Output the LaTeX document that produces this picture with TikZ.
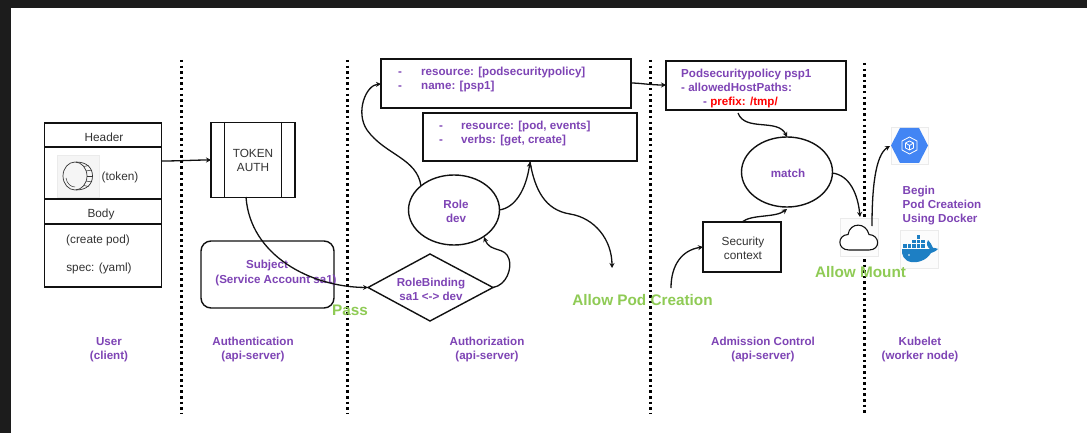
\documentclass[tikz,border=0pt]{standalone}
\usepackage{fontspec}
\setmainfont{Liberation Sans}
\usetikzlibrary{arrows.meta,shapes.geometric}
\definecolor{pur}{HTML}{7E44B5}
\definecolor{grn}{HTML}{8FCB55}
\definecolor{ink}{HTML}{111111}
\definecolor{txt}{HTML}{333333}
\definecolor{gkeblue}{HTML}{4285F4}
\definecolor{dockblue}{HTML}{1D7FC4}
\newcommand{\fs}[1]{\fontsize{#1}{#1}\selectfont}
\tikzset{
 x=1pt,y=-1pt,
 divider/.style={draw=black,line width=3pt,dash pattern=on 2.5pt off 3.1pt},
 boxed/.style={draw=ink,line width=1.4pt,rectangle,inner sep=0pt},
 conn/.style={draw=ink,line width=1.3pt,-{Stealth[length=5pt,width=5pt]}},
 ptxt/.style={text=pur,font=\fs{11.6}\bfseries,align=center,inner sep=0pt},
 ltxt/.style={ptxt,align=left,anchor=base west},
 gtxt/.style={text=grn,font=\fs{15.3}\bfseries,inner sep=0pt},
 btxt/.style={text=txt,font=\fs{11.8},align=center,inner sep=0pt},
 icon/.style={fill=black!1,draw=black!8,line width=.4pt,minimum size=38pt,inner sep=0pt,rectangle},
 sep/.style={draw=ink,line width=1.4pt},
}
\begin{document}
\begin{tikzpicture}
\useasboundingbox (0,0) rectangle (1087,433);
\fill[black!89] (0,0) rectangle (1087,433);
\fill[white] (11,8) rectangle (1087,433);

% dividers
\coordinate (d1a) at (181,60); \coordinate (d1b) at (181,414);
\coordinate (d2a) at (347,60); \coordinate (d2b) at (347,414);
\coordinate (d3a) at (650,60); \coordinate (d3b) at (650,414);
\coordinate (d4a) at (864,63); \coordinate (d4b) at (864,414);
\draw[divider] (d1a)--(d1b);
\draw[divider] (d2a)--(d2b);
\draw[divider] (d3a)--(d3b);
\draw[divider] (d4a)--(d4b);

% user request box
\node[boxed,minimum width=117pt,minimum height=164pt] (req) at (103,205) {};
\draw[sep] (45,147)--(161,147) (45,199)--(161,199) (45,224)--(161,224);
\node[btxt] (hdr) at (104,137) {Header};
\node[btxt] (bdy) at (101,214) {Body};
\node[btxt] (tok) at (120,177) {(token)};
\node[btxt] (cp) at (98,240) {(create pod)};
\node[btxt] (sp) at (99,268) {spec: (yaml)};
\node[fill=black!4,draw=black!8,line width=.4pt,minimum size=42pt,inner sep=0pt,rectangle] (coin) at (78,176) {};
\draw[txt,line width=.7pt] (75,176) ellipse (12 and 14);
\draw[txt,line width=.7pt] (76,162) .. controls (87,162) and (92.5,168) .. (92.5,176) .. controls (92.5,184) and (87,190) .. (76,190);
\foreach \xa/\ya/\xb/\yb in {84/166.5/88.5/165.5,86/171/92/170,87/176/92.5/176,86/181/92/182,84/185.5/88.5/186.5}
  \draw[txt,line width=.5pt] (\xa,\ya)--(\xb,\yb);
\draw[txt,line width=.5pt] (66,178) .. controls (67,184) and (71,187) .. (75,187);

% token auth
\node[boxed,minimum width=84pt,minimum height=75pt] (auth) at (253,160) {};
\draw[sep] (224.5,122)--(224.5,197) (281.5,122)--(281.5,197);
\node[btxt] (authl) at (253,160.5) {TOKEN\\[2.5pt]AUTH};

% subject
\node[draw=ink,line width=1.4pt,rectangle,rounded corners=10pt,minimum width=133pt,minimum height=67pt] (subj) at (267.5,274.5) {};
\node[ptxt] (subjl) at (267,265.5) {Subject};
\node[ptxt] (subjm) at (276,280) {(Service Account sa1)};

% rolebinding
\coordinate (dL) at (368,287.5); \coordinate (dR) at (493,287.5);
\draw[line width=1.4pt,draw=ink] (368,287.5)--(430,254)--(493,287.5)--(430,321)--cycle;
\node[ptxt] (rb) at (431,289) {RoleBinding\\[2.5pt]sa1 <-> dev};

% role
\node[draw=ink,line width=1.4pt,ellipse,minimum width=91pt,minimum height=70pt,inner sep=0pt] (role) at (454,210) {};
\node[ptxt] (rolel) at (456,211.5) {Role\\[2.5pt]dev};

% rule boxes
\node[boxed,minimum width=250pt,minimum height=49pt] (b1) at (506,83.5) {};
\node[ltxt] (b1a) at (398,76) {-};
\node[ltxt] (b1b) at (398,90) {-};
\node[ltxt] (b1c) at (421,76) {resource: [podsecuritypolicy]};
\node[ltxt] (b1d) at (421,90) {name: [psp1]};
\node[boxed,minimum width=214pt,minimum height=48pt] (b2) at (530,137) {};
\node[ltxt] (b2a) at (439,130) {-};
\node[ltxt] (b2b) at (439,144) {-};
\node[ltxt] (b2c) at (461,130) {resource: [pod, events]};
\node[ltxt] (b2d) at (461,144) {verbs: [get, create]};

% psp
\node[boxed,minimum width=180pt,minimum height=49pt] (psp) at (756,85.5) {};
\node[ltxt] (p1) at (681,78) {Podsecuritypolicy psp1};
\node[ltxt] (p2) at (681,92) {- allowedHostPaths:};
\node[ltxt] (p3) at (703,106) {- \textcolor{red}{prefix: /tmp/}};

% match
\node[draw=ink,line width=1.4pt,ellipse,minimum width=91pt,minimum height=70pt,inner sep=0pt] (match) at (787,172) {};
\node[ptxt] (matchl) at (788,173) {match};

% security context
\node[boxed,minimum width=78pt,minimum height=50pt] (sec) at (742,247) {};
\node[btxt] (secl) at (743,248) {Security\\[2.5pt]context};

% cloud icon
\node[icon] (cloud) at (859,237) {};
\draw[ink,line width=1.1pt,fill=white] (849,250) .. controls (837,250) and (837,235) .. (848,234.5) .. controls (850,222) and (866,222) .. (869,234.5) .. controls (880,235) and (881,250) .. (869,250) -- cycle;

% gke icon
\node[icon,minimum size=37pt] (gke) at (909.5,145.5) {};
\fill[gkeblue] (891,145.5)--(900,128)--(919,128)--(928,145.5)--(919,163)--(900,163)--cycle;
\draw[white,line width=.8pt,line join=round] (909.5,137)--(917,141)--(917,150)--(909.5,154)--(902,150)--(902,141)--cycle;
\draw[white,line width=.8pt,line join=round] (909.5,141)--(913.5,143)--(913.5,148)--(909.5,150)--(905.5,148)--(905.5,143)--cycle (905.5,143)--(909.5,145.5)--(913.5,143) (909.5,145.5)--(909.5,150);

% docker icon
\node[icon] (dock) at (919,249) {};
\fill[dockblue] (902,249) -- (930,249) .. controls (932,247) and (936,248) .. (938,249) .. controls (935,252) and (933,252) .. (931,253) .. controls (926,261) and (917,263) .. (911,262) .. controls (904,261) and (901,254) .. (902,249) -- cycle;
\foreach \xx/\yy in {903/244,907.5/244,912/244,916.5/244,921/244,912/239.5,916.5/239.5,921/239.5,916.5/235}
  \fill[dockblue] (\xx,\yy) rectangle ++(3.8,3.8);
\fill[dockblue] (928,240) .. controls (926,244) and (927,247) .. (930,249) -- (933,248) .. controls (932,245) and (930,242) .. (928,240) -- cycle;
\fill[white] (909,255) circle (.9);

% texts
\node[ltxt] (begin) at (902.5,194) {Begin};
\node[ltxt] (begin2) at (902.5,208) {Pod Createion};
\node[ltxt] (begin3) at (902.5,222) {Using Docker};

% free end coordinates
\coordinate (aS) at (246,197);
\coordinate (aOut) at (612,268);
\coordinate (aIn) at (671,288);
\coordinate (roleT) at (421,186);
\coordinate (roleM) at (367,130);
\coordinate (roleR) at (499,210);
\coordinate (b1L) at (381,84);
\coordinate (b2B) at (530,162);
\coordinate (roleB) at (484,237);
\coordinate (pspB) at (738,113);
\coordinate (mT) at (787,137);
\coordinate (mR) at (832,173);
\coordinate (cT) at (860,217);
\coordinate (cR) at (872,226);
\coordinate (gL) at (890,146);
\coordinate (sT) at (742,222);
\coordinate (mB) at (787,209);
\coordinate (sL) at (703,247);
\coordinate (rqE) at (161,161);
\coordinate (auW) at (211,160);
\coordinate (b1E) at (631,83);
\coordinate (pW) at (666,85);

% connectors
\draw[conn] (rqE) .. controls (180,161) and (195,160) .. (auW);
\draw[conn] (aS) .. controls (250,255) and (310,287) .. (dL);
\draw[conn] (roleT) .. controls (417,158) and (385,155) .. (roleM) .. controls (355,112) and (366,85) .. (b1L);
\draw[conn] (roleR) .. controls (515,208) and (526,190) .. (b2B);
\draw[conn] (b2B) .. controls (535,190) and (545,210) .. (570,214) .. controls (595,218) and (612,240) .. (aOut);
\draw[conn] (dR) .. controls (507,285) and (512,268) .. (509,259) .. controls (505,246) and (490,253) .. (roleB);
\draw[conn] (b1E) .. controls (640,83) and (650,85) .. (pW);
\draw[conn] (pspB) .. controls (745,132) and (778,118) .. (mT);
\draw[conn] (mR) .. controls (850,175) and (858,195) .. (cT);
\draw[conn] (cR) .. controls (872,190) and (875,155) .. (gL);
\draw[conn] (sT) .. controls (752,214) and (775,218) .. (mB);
\draw[conn] (aIn) .. controls (671,265) and (682,250) .. (sL);

% green labels
\node[gtxt] (pass) at (350,310) {Pass};
\node[gtxt] (apc) at (642.5,300) {Allow Pod Creation};
\node[gtxt] (am) at (860.5,272.5) {Allow Mount};

% bottom labels
\node[ptxt] (c1) at (109,349.5) {User\\[2.5pt](client)};
\node[ptxt] (c2) at (253,349.5) {Authentication\\[2.5pt](api-server)};
\node[ptxt] (c3) at (487,349.5) {Authorization\\[2.5pt](api-server)};
\node[ptxt] (c4) at (763,349.5) {Admission Control\\[2.5pt](api-server)};
\node[ptxt] (c5) at (920,349.5) {Kubelet\\[2.5pt](worker node)};
\end{tikzpicture}
\end{document}
